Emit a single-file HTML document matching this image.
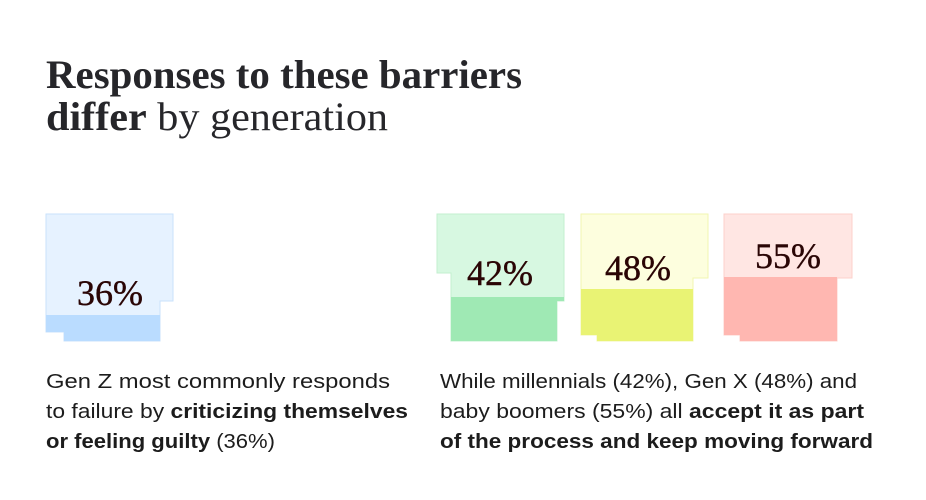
<!DOCTYPE html>
<html><head><meta charset="utf-8"><style>
html,body{margin:0;padding:0;background:#fff;}
svg{display:block}
.s{font-family:"Liberation Sans",sans-serif;font-size:20px;fill:#1c1c1c}
.b{font-weight:bold}
.t{font-family:"Liberation Serif",serif;fill:#26262a}
.p{font-family:"Liberation Serif",serif;font-size:36px;fill:#2a0505;stroke:#2a0505;stroke-width:0.4}
</style></head><body>
<svg width="926" height="500" viewBox="0 0 926 500">
<text class="t" x="46" y="88" font-size="40" font-weight="bold" textLength="476" lengthAdjust="spacingAndGlyphs">Responses to these barriers</text>
<text class="t" x="46" y="130" font-size="40" textLength="342" lengthAdjust="spacingAndGlyphs"><tspan font-weight="bold">differ</tspan> by generation</text>

<polygon points="46,214 173,214 173,301 160,301 160,341 64,341 64,332 46,332" fill="#e6f2ff" stroke="#c9e2fb" stroke-width="1"/>
<polygon points="46,315 160,315 160,341 64,341 64,332 46,332" fill="#badcff"/>
<text class="p" x="110" y="305" text-anchor="middle">36%</text>

<polygon points="437,214 564,214 564,301 557,301 557,341 451,341 451,273 437,273" fill="#d7f8e1" stroke="#c3efcf" stroke-width="1"/>
<polygon points="451,297 564,297 564,301 557,301 557,341 451,341" fill="#9fe9b4"/>
<text class="p" x="500" y="285" text-anchor="middle">42%</text>

<polygon points="581,214 708,214 708,278 693,278 693,341 597,341 597,335 581,335" fill="#fdfede" stroke="#f1f6b0" stroke-width="1"/>
<polygon points="581,289 693,289 693,341 597,341 597,335 581,335" fill="#e9f374"/>
<text class="p" x="638" y="280" text-anchor="middle">48%</text>

<polygon points="724,214 852,214 852,278 837,278 837,341 740,341 740,335 724,335" fill="#ffe6e3" stroke="#fcd0cb" stroke-width="1"/>
<polygon points="724,277 837,277 837,341 740,341 740,335 724,335" fill="#ffb7b1"/>
<text class="p" x="788" y="268" text-anchor="middle">55%</text>

<text class="s" x="46" y="388" textLength="344" lengthAdjust="spacingAndGlyphs">Gen Z most commonly responds</text>
<text class="s" x="46" y="418" textLength="362" lengthAdjust="spacingAndGlyphs">to failure by <tspan class="b">criticizing themselves</tspan></text>
<text class="s" x="46" y="448" textLength="229" lengthAdjust="spacingAndGlyphs"><tspan class="b">or feeling guilty</tspan> (36%)</text>

<text class="s" x="440" y="388" textLength="417" lengthAdjust="spacingAndGlyphs">While millennials (42%), Gen X (48%) and</text>
<text class="s" x="440" y="418" textLength="424" lengthAdjust="spacingAndGlyphs">baby boomers (55%) all <tspan class="b">accept it as part</tspan></text>
<text class="s b" x="440" y="448" textLength="433" lengthAdjust="spacingAndGlyphs">of the process and keep moving forward</text>
</svg>
</body></html>
